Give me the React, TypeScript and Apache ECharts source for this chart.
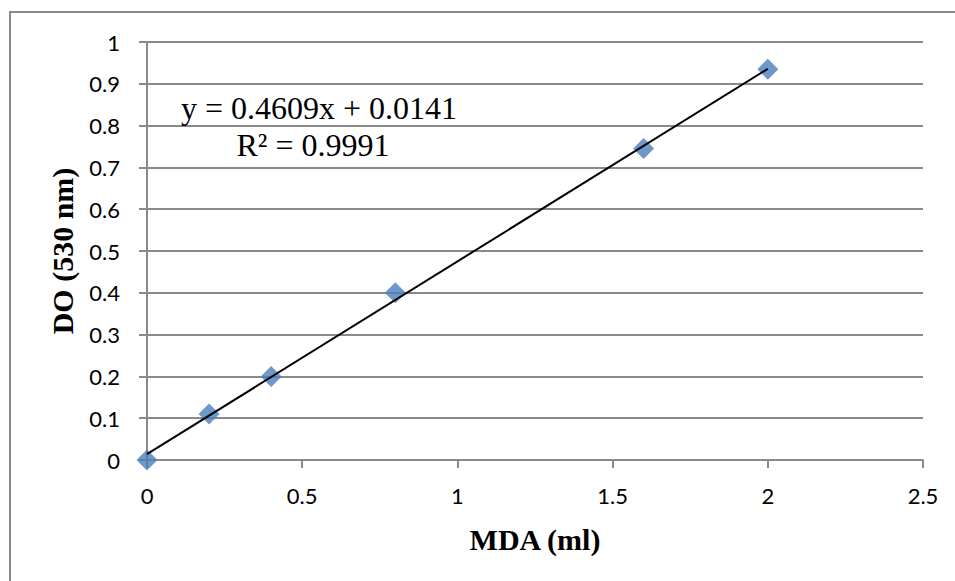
import React, { useEffect, useRef } from "react";
import * as echarts from "echarts";

const mdaValues = [0, 0.2, 0.4, 0.8, 1.6, 2];
const doValues = [0, 0.11, 0.2, 0.4, 0.745, 0.935];
const slope = 0.4609;
const intercept = 0.0141;
const trendRange = [0, 2];
const equationText = "y = 0.4609x + 0.0141";
const r2Text = "R² = 0.9991";
const xTitle = "MDA (ml)";
const yTitle = "DO (530 nm)";

export default function App() {
  const ref = useRef<HTMLDivElement>(null);
  useEffect(() => {
    if (!ref.current) return;
    const chart = echarts.init(ref.current, undefined, { renderer: "svg" });
    const gridColor = "#8a8a8a";
    const labelFont = "Lato, 'Open Sans', sans-serif";
    const serif = "'Liberation Serif', 'DejaVu Serif', serif";
    chart.setOption({
      animation: false,
      backgroundColor: "#ffffff",
      grid: { left: 147, right: 32, top: 42, bottom: 121 },
      xAxis: {
        type: "value",
        min: 0,
        max: 2.5,
        interval: 0.5,
        name: xTitle,
        nameLocation: "middle",
        nameGap: 64,
        nameTextStyle: { fontFamily: serif, fontWeight: "bold", fontSize: 30, color: "#000" },
        axisLine: { show: true, lineStyle: { color: gridColor, width: 2 } },
        axisTick: { show: true, length: 8, inside: false, lineStyle: { color: gridColor, width: 2 } },
        axisLabel: { margin: 24, fontFamily: labelFont, fontSize: 22, color: "#000" },
        splitLine: { show: false },
      },
      yAxis: {
        type: "value",
        min: 0,
        max: 1,
        interval: 0.1,
        name: yTitle,
        nameLocation: "middle",
        nameGap: 70,
        nameRotate: 90,
        nameTextStyle: { fontFamily: serif, fontWeight: "bold", fontSize: 30, color: "#000" },
        axisLine: { show: true, lineStyle: { color: gridColor, width: 2 } },
        axisTick: { show: true, length: 8, inside: false, lineStyle: { color: gridColor, width: 2 } },
        axisLabel: {
          margin: 27,
          fontFamily: labelFont,
          fontSize: 22,
          color: "#000",
          formatter: (v: number) => String(Math.round(v * 10) / 10),
        },
        splitLine: { show: true, lineStyle: { color: gridColor, width: 2 } },
      },
      series: [
        {
          type: "line",
          data: trendRange.map((x) => [x, intercept + slope * x]),
          symbol: "none",
          lineStyle: { color: "#000", width: 2 },
          z: 3,
        },
        {
          type: "scatter",
          data: mdaValues.map((x, i) => [x, doValues[i]]),
          symbol: "diamond",
          symbolSize: [21, 21],
          itemStyle: { color: "#4a7ebb" },
          z: 2,
        },
      ],
      graphic: [
        {
          type: "rect",
          shape: { x: 10, y: 12, width: 1000, height: 1000 },
          style: { fill: "none", stroke: "#8a8a8a", lineWidth: 2 },
          silent: true,
        },
        {
          type: "text",
          x: 319,
          y: 108,
          style: {
            text: equationText,
            font: `32px ${serif}`,
            fill: "#000",
            align: "center",
            verticalAlign: "middle",
          },
          z: 10,
        },
        {
          type: "text",
          x: 313,
          y: 145,
          style: {
            text: r2Text,
            font: `32px ${serif}`,
            fill: "#000",
            align: "center",
            verticalAlign: "middle",
          },
          z: 10,
        },
      ],
    });
    return () => chart.dispose();
  }, []);
  return (
    <div
      ref={ref}
      style={{ position: "fixed", left: 0, top: 0, width: 955, height: 581 }}
    />
  );
}
